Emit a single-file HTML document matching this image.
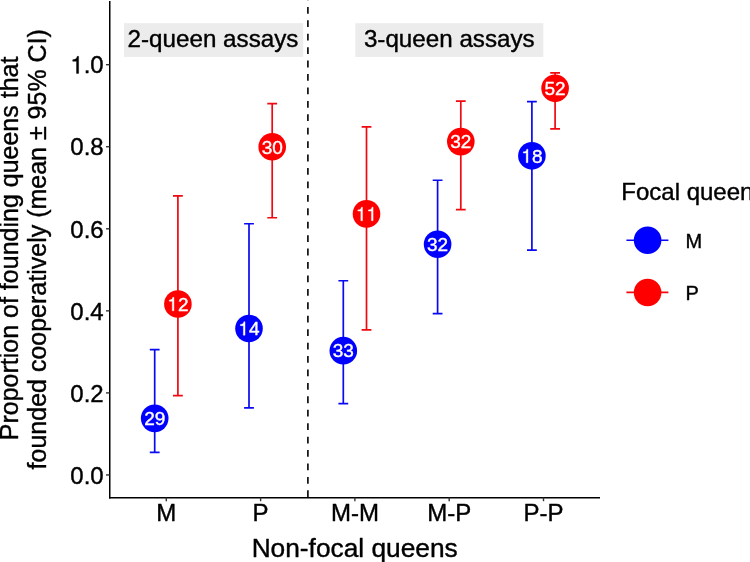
<!DOCTYPE html>
<html><head><meta charset="utf-8"><title>Proportion of founding queens that founded cooperatively</title><style>
html,body{margin:0;padding:0;background:#fff;overflow:hidden;}
svg{display:block;will-change:transform;}
text{font-family:"Liberation Sans",sans-serif;stroke-width:0.4px;stroke-linejoin:round;font-kerning:none;}
tspan.h{fill:none;stroke:none;}
</style></head><body>
<svg width="750" height="562" viewBox="0 0 750 562">
<rect width="750" height="562" fill="#fff"/>
<rect x="124" y="23.2" width="179.2" height="33.7" fill="#ECECEC"/>
<rect x="355.3" y="23.2" width="188" height="33.7" fill="#ECECEC"/>
<text x="213.0" y="47.3" font-size="24.2" text-anchor="middle" fill="#000" stroke="#000">2-queen assays</text>
<text x="449.3" y="47.3" font-size="24.2" text-anchor="middle" fill="#000" stroke="#000">3-queen assays</text>
<line x1="307.9" y1="0" x2="307.9" y2="497" stroke="#000" stroke-width="1.6" stroke-dasharray="6.8 6.63" stroke-dashoffset="6.55"/>
<line x1="109.75" y1="1.0" x2="109.75" y2="498.5" stroke="#000" stroke-width="1.5"/>
<line x1="109" y1="497.75" x2="600" y2="497.75" stroke="#000" stroke-width="1.5"/>
<line x1="106" y1="474.96" x2="109.5" y2="474.96" stroke="#333" stroke-width="1.4"/>
<text x="70.29" y="483.66" font-size="24" fill="#000" stroke="#000">0.0</text>
<line x1="106" y1="392.91" x2="109.5" y2="392.91" stroke="#333" stroke-width="1.4"/>
<text x="70.29" y="401.61" font-size="24" fill="#000" stroke="#000">0.2</text>
<line x1="106" y1="310.85" x2="109.5" y2="310.85" stroke="#333" stroke-width="1.4"/>
<text x="70.29" y="319.55" font-size="24" fill="#000" stroke="#000">0.4</text>
<line x1="106" y1="228.80" x2="109.5" y2="228.80" stroke="#333" stroke-width="1.4"/>
<text x="70.29" y="237.50" font-size="24" fill="#000" stroke="#000">0.6</text>
<line x1="106" y1="146.74" x2="109.5" y2="146.74" stroke="#333" stroke-width="1.4"/>
<text x="70.29" y="155.44" font-size="24" fill="#000" stroke="#000">0.8</text>
<line x1="106" y1="64.69" x2="109.5" y2="64.69" stroke="#333" stroke-width="1.4"/>
<text x="70.29" y="73.39" font-size="24" fill="#000" stroke="#000"><tspan class="h">1</tspan>.0</text>
<path transform="translate(70.29 73.39) scale(0.02400 -0.02400)" d="M347 0V709H289C258 600 238 585 102 568V505H259V0Z" fill="#000" stroke="#000" stroke-width="16.7" stroke-linejoin="round"/>
<line x1="166.30" y1="497.5" x2="166.30" y2="501.2" stroke="#333" stroke-width="1.4"/>
<text x="166.30" y="521" font-size="24" text-anchor="middle" fill="#000" stroke="#000">M</text>
<line x1="260.60" y1="497.5" x2="260.60" y2="501.2" stroke="#333" stroke-width="1.4"/>
<text x="260.60" y="521" font-size="24" text-anchor="middle" fill="#000" stroke="#000">P</text>
<line x1="354.90" y1="497.5" x2="354.90" y2="501.2" stroke="#333" stroke-width="1.4"/>
<text x="354.90" y="521" font-size="24" text-anchor="middle" fill="#000" stroke="#000">M-M</text>
<line x1="449.20" y1="497.5" x2="449.20" y2="501.2" stroke="#333" stroke-width="1.4"/>
<text x="449.20" y="521" font-size="24" text-anchor="middle" fill="#000" stroke="#000">M-P</text>
<line x1="543.50" y1="497.5" x2="543.50" y2="501.2" stroke="#333" stroke-width="1.4"/>
<text x="543.50" y="521" font-size="24" text-anchor="middle" fill="#000" stroke="#000">P-P</text>
<text x="354.7" y="556.6" font-size="26.3" text-anchor="middle" fill="#000" stroke="#000">Non-focal queens</text>
<text transform="translate(17.9,248.4) rotate(-90)" x="0" y="0" font-size="25" text-anchor="middle" fill="#000" stroke="#000">Proportion of founding queens that</text>
<text transform="translate(45.7,249.25) rotate(-90)" x="0" y="0" font-size="25" text-anchor="middle" fill="#000" stroke="#000">founded cooperatively (mean ± 95% CI)</text>
<path d="M149.80 349.59H159.60M154.70 349.59V452.41M149.80 452.41H159.60" stroke="#0A0AF0" stroke-width="1.7" fill="none"/>
<path d="M173.00 195.78H182.80M177.90 195.78V395.67M173.00 395.67H182.80" stroke="#F00A10" stroke-width="1.7" fill="none"/>
<path d="M244.10 223.73H253.90M249.00 223.73V407.90M244.10 407.90H253.90" stroke="#0A0AF0" stroke-width="1.7" fill="none"/>
<path d="M267.30 103.69H277.10M272.20 103.69V217.74M267.30 217.74H277.10" stroke="#F00A10" stroke-width="1.7" fill="none"/>
<path d="M338.40 280.75H348.20M343.30 280.75V403.67M338.40 403.67H348.20" stroke="#0A0AF0" stroke-width="1.7" fill="none"/>
<path d="M361.60 126.91H371.40M366.50 126.91V329.81M361.60 329.81H371.40" stroke="#F00A10" stroke-width="1.7" fill="none"/>
<path d="M432.70 180.24H442.50M437.60 180.24V313.62M432.70 313.62H442.50" stroke="#0A0AF0" stroke-width="1.7" fill="none"/>
<path d="M455.90 101.16H465.70M460.80 101.16V209.55M455.90 209.55H465.70" stroke="#F00A10" stroke-width="1.7" fill="none"/>
<path d="M527.00 101.62H536.80M531.90 101.62V250.19M527.00 250.19H536.80" stroke="#0A0AF0" stroke-width="1.7" fill="none"/>
<path d="M550.20 72.82H560.00M555.10 72.82V128.87M550.20 128.87H560.00" stroke="#F00A10" stroke-width="1.7" fill="none"/>
<circle cx="154.70" cy="418.37" r="13.8" fill="#0000FF"/>
<text x="144.13" y="425.17" font-size="19" fill="#fff" stroke="#fff">29</text>
<circle cx="177.90" cy="304.01" r="13.8" fill="#FF0000"/>
<text x="167.33" y="310.81" font-size="19" fill="#fff" stroke="#fff"><tspan class="h">1</tspan>2</text>
<path transform="translate(167.33 310.81) scale(0.01900 -0.01900)" d="M347 0V709H289C258 600 238 585 102 568V505H259V0Z" fill="#fff" stroke="#fff" stroke-width="21.1" stroke-linejoin="round"/>
<circle cx="249.00" cy="328.43" r="13.8" fill="#0000FF"/>
<text x="238.43" y="335.23" font-size="19" fill="#fff" stroke="#fff"><tspan class="h">1</tspan>4</text>
<path transform="translate(238.43 335.23) scale(0.01900 -0.01900)" d="M347 0V709H289C258 600 238 585 102 568V505H259V0Z" fill="#fff" stroke="#fff" stroke-width="21.1" stroke-linejoin="round"/>
<circle cx="272.20" cy="146.74" r="13.8" fill="#FF0000"/>
<text x="261.63" y="153.54" font-size="19" fill="#fff" stroke="#fff">30</text>
<circle cx="343.30" cy="350.64" r="13.8" fill="#0000FF"/>
<text x="332.73" y="357.44" font-size="19" fill="#fff" stroke="#fff">33</text>
<circle cx="366.50" cy="213.88" r="13.8" fill="#FF0000"/>
<text x="355.93" y="220.68" font-size="19" fill="#fff" stroke="#fff"><tspan class="h">1</tspan><tspan class="h">1</tspan></text>
<path transform="translate(355.93 220.68) scale(0.01900 -0.01900)" d="M347 0V709H289C258 600 238 585 102 568V505H259V0Z" fill="#fff" stroke="#fff" stroke-width="21.1" stroke-linejoin="round"/>
<path transform="translate(366.50 220.68) scale(0.01900 -0.01900)" d="M347 0V709H289C258 600 238 585 102 568V505H259V0Z" fill="#fff" stroke="#fff" stroke-width="21.1" stroke-linejoin="round"/>
<circle cx="437.60" cy="244.18" r="13.8" fill="#0000FF"/>
<text x="427.03" y="250.98" font-size="19" fill="#fff" stroke="#fff">32</text>
<circle cx="460.80" cy="141.62" r="13.8" fill="#FF0000"/>
<text x="450.23" y="148.42" font-size="19" fill="#fff" stroke="#fff">32</text>
<circle cx="531.90" cy="155.86" r="13.8" fill="#0000FF"/>
<text x="521.33" y="162.66" font-size="19" fill="#fff" stroke="#fff"><tspan class="h">1</tspan>8</text>
<path transform="translate(521.33 162.66) scale(0.01900 -0.01900)" d="M347 0V709H289C258 600 238 585 102 568V505H259V0Z" fill="#fff" stroke="#fff" stroke-width="21.1" stroke-linejoin="round"/>
<circle cx="555.10" cy="88.36" r="13.8" fill="#FF0000"/>
<text x="544.53" y="95.16" font-size="19" fill="#fff" stroke="#fff">52</text>
<text x="621.3" y="199.7" font-size="24" fill="#000" stroke="#000">Focal queen</text>
<line x1="626.4" y1="240.25" x2="668.4" y2="240.25" stroke="#0A0AF0" stroke-width="1.7"/>
<circle cx="647.6" cy="240.25" r="13.8" fill="#0000FF"/>
<text x="685.5" y="247.55" font-size="20" fill="#000" stroke="#000">M</text>
<line x1="626.4" y1="292.45" x2="668.4" y2="292.45" stroke="#F00A10" stroke-width="1.7"/>
<circle cx="647.6" cy="292.45" r="13.8" fill="#FF0000"/>
<text x="685.5" y="299.75" font-size="20" fill="#000" stroke="#000">P</text>
</svg>
</body></html>
